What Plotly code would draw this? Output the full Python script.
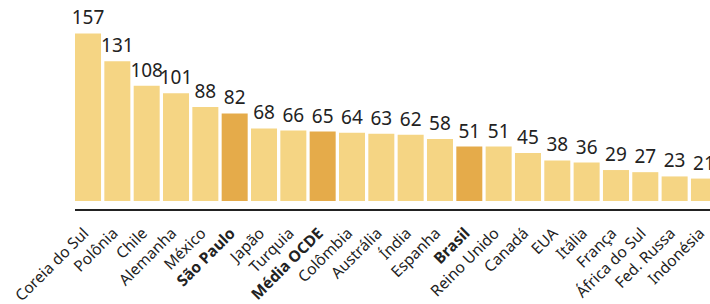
import plotly.graph_objects as go

countries = ["Coreia do Sul", "Polônia", "Chile", "Alemanha", "México", "São Paulo",
             "Japão", "Turquia", "Média OCDE", "Colômbia", "Austrália", "Índia",
             "Espanha", "Brasil", "Reino Unido", "Canadá", "EUA", "Itália", "França",
             "África do Sul", "Fed. Russa", "Indonésia"]
values = [157, 131, 108, 101, 88, 82, 68, 66, 65, 64, 63, 62, 58, 51, 51, 45, 38, 36,
          29, 27, 23, 21]
highlighted = ["São Paulo", "Média OCDE", "Brasil"]

LIGHT = "#F5D584"
DARK = "#E5AB4A"

colors = [DARK if c in highlighted else LIGHT for c in countries]
ticktext = [f"<b>{c}</b>" if c in highlighted else c for c in countries]

fig = go.Figure(go.Bar(
    x=countries, y=values,
    marker=dict(color=colors, line=dict(width=0)),
    text=[str(v) for v in values],
    textposition="outside",
    textfont=dict(size=19, color="#222222", family="Noto Sans"),
    constraintext="none",
    cliponaxis=False,
    hoverinfo="skip",
))

fig.update_layout(
    width=710, height=304, autosize=False,
    margin=dict(l=75, r=0, t=0, b=94.5, pad=0),
    paper_bgcolor="white", plot_bgcolor="white",
    bargap=0.113,
    showlegend=False,
    font=dict(family="Noto Sans", color="#222222"),
)
fig.update_xaxes(
    type="category",
    range=[-0.444, 21.206],
    tickmode="array", tickvals=countries, ticktext=ticktext,
    tickangle=-45,
    tickfont=dict(size=15.5, color="#222222", family="Noto Sans"),
    ticklabelstandoff=7,
    ticklabelshift=-4,
    showline=True, linecolor="#222222", linewidth=2,
    showgrid=False, ticks="", zeroline=False,
    automargin=False,
)
fig.update_yaxes(
    range=[-7.5, 188.3],
    visible=False, showgrid=False, zeroline=False,
    automargin=False,
)

fig.write_html(
    "out.html",
    config={"displayModeBar": False, "staticPlot": True},
    post_script="document.body.style.margin='0';document.body.style.overflow='hidden';",
)
